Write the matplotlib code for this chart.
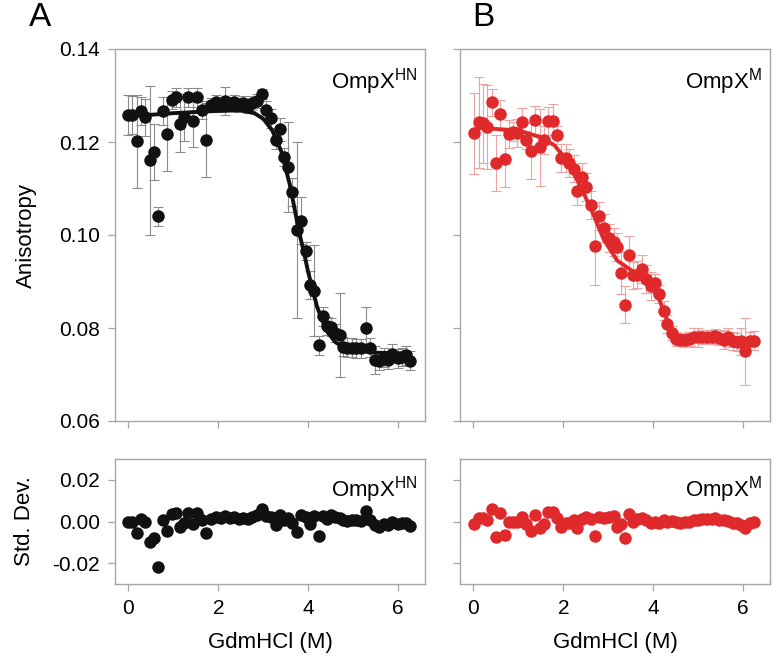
import numpy as np
import matplotlib
matplotlib.use('Agg')
import matplotlib.pyplot as plt

plt.rcParams['font.family'] = ['Liberation Sans', 'DejaVu Sans']
plt.rcParams['mathtext.fontset'] = 'custom'
plt.rcParams['mathtext.rm'] = 'Liberation Sans'
plt.rcParams['mathtext.it'] = 'Liberation Sans'

# OmpX HN (panel A)
x_hn = [0.0, 0.08, 0.18, 0.28, 0.37, 0.47, 0.56, 0.66, 0.76, 0.85, 0.96, 1.06, 1.15, 1.24, 1.33,
        1.44, 1.53, 1.63, 1.73, 1.84, 1.95, 2.06, 2.15, 2.25, 2.35, 2.45, 2.55, 2.65, 2.75, 2.85,
        2.98, 3.07, 3.17, 3.28, 3.38, 3.47, 3.56, 3.65, 3.75, 3.85, 3.95, 4.04, 4.14, 4.23, 4.32,
        4.41, 4.5, 4.6, 4.7, 4.78, 4.87, 4.98, 5.07, 5.18, 5.28, 5.38, 5.49, 5.58, 5.69, 5.78,
        5.87, 5.99, 6.08, 6.17, 6.27]
y_hn = [0.1258, 0.1258, 0.1202, 0.1267, 0.1253, 0.1161, 0.1179, 0.1040, 0.1267, 0.1217, 0.1290,
        0.1296, 0.1239, 0.1253, 0.1296, 0.1245, 0.1296, 0.1269, 0.1204, 0.1280, 0.1287, 0.1280,
        0.1288, 0.1282, 0.1287, 0.1280, 0.1284, 0.1278, 0.1283, 0.1288, 0.1303, 0.1268, 0.1251,
        0.1204, 0.1227, 0.1168, 0.1147, 0.1093, 0.1011, 0.1031, 0.0966, 0.0893, 0.0880, 0.0763,
        0.0825, 0.0804, 0.0802, 0.0789, 0.0785, 0.0760, 0.0758, 0.0758, 0.0756, 0.0756, 0.0800,
        0.0758, 0.0731, 0.0729, 0.0737, 0.0731, 0.0745, 0.0735, 0.0738, 0.0741, 0.0730]
err_hn = [0.0043, 0.004, 0.010, 0.003, 0.004, 0.016, 0.006, 0.002, 0.003, 0.008, 0.002, 0.002,
          0.006, 0.005, 0.002, 0.0055, 0.002, 0.002, 0.008, 0.0015, 0.0015, 0.0015, 0.003, 0.0015,
          0.0015, 0.0015, 0.0015, 0.0015, 0.0015, 0.0015, 0.001, 0.002, 0.002, 0.002, 0.0025,
          0.002, 0.0097, 0.003, 0.019, 0.005, 0.002, 0.003, 0.0098, 0.002, 0.002, 0.002, 0.002,
          0.002, 0.009, 0.002, 0.002, 0.002, 0.002, 0.002, 0.0046, 0.002, 0.003, 0.002, 0.002,
          0.002, 0.002, 0.002, 0.002, 0.002, 0.002]
res_hn = [0.000, 0.000, -0.0057, 0.0013, -0.0003, -0.0098, -0.0078, -0.0220, 0.0008, -0.0044,
          0.0037, 0.0040, -0.0024, -0.0008, 0.0040, -0.0010, 0.0040, 0.0008, -0.0057, 0.0013,
          0.0022, 0.0015, 0.0025, 0.0018, 0.0022, 0.0012, 0.0016, 0.0012, 0.0020, 0.0030,
          0.0060, 0.0025, 0.0020, -0.0015, 0.0030, 0.0005, 0.0015, -0.0005, -0.0050, 0.0030,
          0.0020, -0.0010, 0.0025, -0.0068, 0.0025, 0.0012, 0.0030, 0.0020, 0.0018, 0.0005,
          0.0003, 0.0005, 0.0005, 0.0003, 0.0050, 0.0008, -0.0015, -0.0025, -0.0010, -0.0015,
          0.0000, -0.0012, -0.0008, -0.0005, -0.0022]
fit_x_hn = [0.0, 1.0, 2.0, 2.5, 2.8, 3.0, 3.2, 3.4, 3.6, 3.8, 3.9, 4.0, 4.2, 4.4, 4.6, 4.8, 5.0,
            5.5, 6.27]
fit_y_hn = [0.1255, 0.1262, 0.1267, 0.1268, 0.1262, 0.1250, 0.1225, 0.1180, 0.1105, 0.1005,
            0.0965, 0.0920, 0.0845, 0.0795, 0.0770, 0.0757, 0.0752, 0.0747, 0.0745]

# OmpX M (panel B)
x_m = [0.02, 0.12, 0.21, 0.31, 0.41, 0.51, 0.60, 0.70, 0.80, 0.88, 0.97, 1.08, 1.18, 1.27, 1.37,
       1.47, 1.56, 1.66, 1.77, 1.85, 1.95, 2.05, 2.13, 2.23, 2.31, 2.41, 2.51, 2.61, 2.70, 2.79,
       2.90, 3.01, 3.12, 3.19, 3.28, 3.38, 3.47, 3.56, 3.65, 3.74, 3.85, 3.95, 4.05, 4.13, 4.24,
       4.31, 4.42, 4.51, 4.60, 4.70, 4.80, 4.91, 5.00, 5.09, 5.20, 5.30, 5.38, 5.47, 5.58, 5.67,
       5.77, 5.86, 5.96, 6.05, 6.15, 6.24]
y_m = [0.1219, 0.1242, 0.1240, 0.1233, 0.1285, 0.1154, 0.1260, 0.1163, 0.1217, 0.1222, 0.1220,
       0.1244, 0.1204, 0.1180, 0.1247, 0.1189, 0.1204, 0.1246, 0.1246, 0.1215, 0.1165, 0.1166,
       0.1154, 0.1143, 0.1095, 0.1124, 0.1103, 0.1065, 0.0977, 0.1041, 0.1015, 0.0993, 0.0984,
       0.0975, 0.0918, 0.0850, 0.0957, 0.0913, 0.0915, 0.0926, 0.0905, 0.0890, 0.0896, 0.0873,
       0.0837, 0.0809, 0.0789, 0.0776, 0.0774, 0.0774, 0.0776, 0.0780, 0.0780, 0.0781, 0.0780,
       0.0781, 0.0783, 0.0778, 0.0775, 0.0780, 0.0772, 0.0770, 0.0771, 0.0750, 0.0772, 0.0773]
err_m = [0.0087, 0.0097, 0.0085, 0.009, 0.003, 0.006, 0.003, 0.006, 0.003, 0.002, 0.003, 0.003,
         0.002, 0.006, 0.003, 0.0083, 0.003, 0.003, 0.0035, 0.002, 0.003, 0.003, 0.003, 0.003,
         0.003, 0.003, 0.003, 0.003, 0.0085, 0.003, 0.003, 0.003, 0.003, 0.003, 0.0045, 0.004,
         0.004, 0.003, 0.003, 0.003, 0.003, 0.003, 0.002, 0.002, 0.002, 0.002, 0.0015, 0.0015,
         0.0012, 0.0015, 0.0015, 0.002, 0.002, 0.0015, 0.0012, 0.0015, 0.0015, 0.0015, 0.002,
         0.002, 0.002, 0.002, 0.003, 0.0072, 0.002, 0.002]
res_m = [-0.0011, 0.0018, 0.0015, 0.0008, 0.0062, -0.0076, 0.0040, -0.0065, -0.0003, 0.0000,
         -0.0002, 0.0020, -0.0010, -0.0044, 0.0030, -0.0030, -0.0010, 0.0046, 0.0046, 0.0015,
         -0.0024, -0.0005, -0.0008, 0.0005, -0.0030, 0.0010, 0.0020, 0.0010, -0.0068, 0.0020,
         0.0015, 0.0020, 0.0025, -0.0024, -0.0010, -0.0080, 0.0034, 0.0000, 0.0010, 0.0015,
         0.0005, -0.0005, 0.0000, -0.0005, 0.0005, 0.0000, 0.0003, -0.0002, -0.0005, -0.0003,
         0.0000, 0.0005, 0.0008, 0.0010, 0.0010, 0.0012, 0.0015, 0.0008, 0.0005, 0.0003,
         -0.0008, -0.0005, -0.0015, -0.0030, -0.0005, 0.0000]
fit_x_m = [0.1, 0.5, 1.0, 1.5, 1.8, 2.0, 2.3, 2.6, 2.9, 3.2, 3.5, 3.8, 4.1, 4.3, 4.5, 5.0, 6.24]
fit_y_m = [0.1230, 0.1228, 0.1225, 0.1210, 0.1193, 0.1170, 0.1120, 0.1060, 0.0990, 0.0945,
           0.0925, 0.0905, 0.0870, 0.0820, 0.0785, 0.0778, 0.0775]

rojo = '#e0292b'
negro = '#111111'
gris = '#a6a6a6'

fig = plt.figure(figsize=(7.8, 6.72), dpi=100)
W, H = 780.0, 672.0

def caja(x0, y0, x1, y1):
    #Convierte pixeles a fraccion de figura
    return [x0 / W, 1 - y1 / H, (x1 - x0) / W, (y1 - y0) / H]

ax_a = fig.add_axes(caja(115, 49, 425, 421))
ax_b = fig.add_axes(caja(460, 49, 770, 421))
ax_c = fig.add_axes(caja(115, 459, 425, 584))
ax_d = fig.add_axes(caja(460, 459, 770, 584))

for ax in [ax_a, ax_b, ax_c, ax_d]:
    for s in ax.spines.values():
        s.set_color(gris)
        s.set_linewidth(1.0)
    ax.tick_params(direction='out', length=5, width=0.9, color=gris, labelsize=15, pad=6)
    ax.set_xlim(-0.3, 6.6)
    ax.set_xticks([0, 2, 4, 6])

for ax in [ax_a, ax_b]:
    ax.set_ylim(0.06, 0.14)
    ax.set_yticks([0.06, 0.08, 0.10, 0.12, 0.14])
    ax.set_xticklabels([])
for ax in [ax_c, ax_d]:
    ax.set_ylim(-0.03, 0.03)
    ax.set_yticks([-0.02, 0.0, 0.02])
    ax.set_xlabel('GdmHCl (M)', fontsize=16, labelpad=10)

ax_a.set_yticklabels(['0.06', '0.08', '0.10', '0.12', '0.14'])
ax_c.set_yticklabels(['-0.02', '0.00', '0.02'])
ax_b.set_yticklabels([])
ax_d.set_yticklabels([])

ms = 9
### Panel A
ax_a.errorbar(x_hn, y_hn, yerr=err_hn, fmt='none', ecolor='#8c8c8c', elinewidth=0.8, capsize=3.5, capthick=0.8)
ax_a.plot(x_hn, y_hn, 'o', color=negro, ms=ms, mec='none')
ax_a.plot(fit_x_hn, fit_y_hn, '-', color=negro, lw=2.8)
ax_a.set_ylabel('Anisotropy', fontsize=16, labelpad=16)

### Panel B
ax_b.errorbar(x_m, y_m, yerr=err_m, fmt='none', ecolor='#eba3a3', elinewidth=0.8, capsize=3.5, capthick=0.8)
ax_b.plot(x_m, y_m, 'o', color=rojo, ms=ms, mec='none')
ax_b.plot(fit_x_m, fit_y_m, '-', color=rojo, lw=2.8)

### Residuos
ax_c.plot(x_hn, res_hn, 'o', color=negro, ms=ms, mec='none')
ax_d.plot(x_m, res_m, 'o', color=rojo, ms=ms, mec='none')
ax_c.set_ylabel('Std. Dev.', fontsize=16, labelpad=12)

ax_a.text(0.975, 0.955, r'OmpX$^{\mathrm{HN}}$', transform=ax_a.transAxes, ha='right', va='top', fontsize=16)
ax_b.text(0.975, 0.955, r'OmpX$^{\mathrm{M}}$', transform=ax_b.transAxes, ha='right', va='top', fontsize=16)
ax_c.text(0.975, 0.88, r'OmpX$^{\mathrm{HN}}$', transform=ax_c.transAxes, ha='right', va='top', fontsize=16)
ax_d.text(0.975, 0.88, r'OmpX$^{\mathrm{M}}$', transform=ax_d.transAxes, ha='right', va='top', fontsize=16)

fig.text(40 / W, 1 - 18 / H, 'A', fontsize=24, ha='center', va='center')
fig.text(483 / W, 1 - 18 / H, 'B', fontsize=24, ha='center', va='center')

plt.savefig('out.png', dpi=100)
